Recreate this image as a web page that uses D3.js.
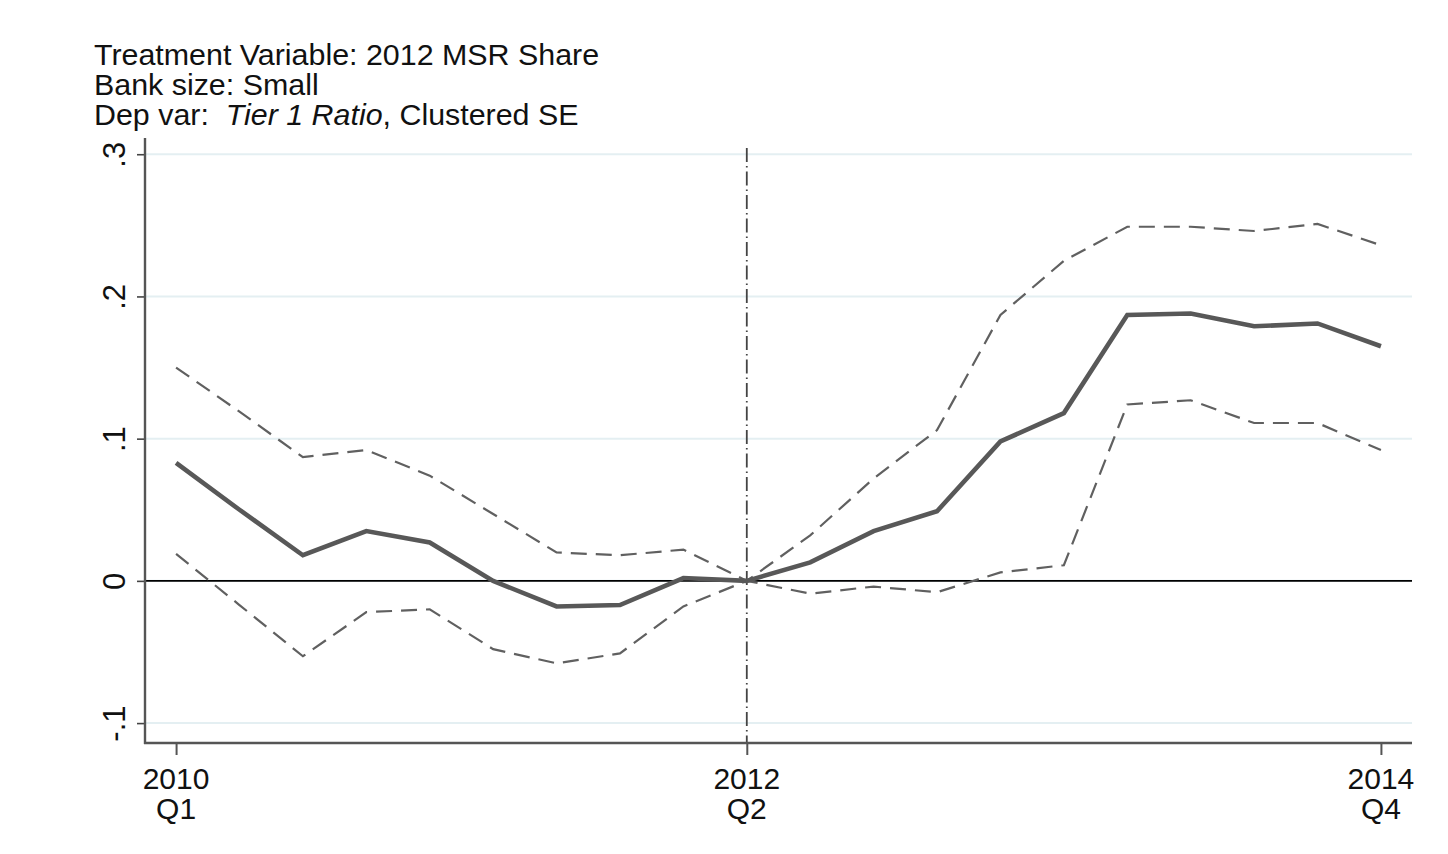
<!DOCTYPE html>
<html>
<head>
<meta charset="utf-8">
<script src="https://cdn.jsdelivr.net/npm/d3@7"></script>
<style>
  body { margin: 0; background: #fff; }
  text { font-family: "Liberation Sans", Arial, sans-serif; fill: #111; }
</style>
</head>
<body>
<svg id="svg" width="1448" height="854"></svg>
<script>
// quarters 2010Q1 .. 2014Q4
var quarters = ["2010Q1","2010Q2","2010Q3","2010Q4","2011Q1","2011Q2","2011Q3","2011Q4",
  "2012Q1","2012Q2","2012Q3","2012Q4","2013Q1","2013Q2","2013Q3","2013Q4",
  "2014Q1","2014Q2","2014Q3","2014Q4"];

var coef  = [0.083, 0.050, 0.018, 0.035, 0.027, 0.000, -0.018, -0.017, 0.002, 0.000,
  0.013, 0.035, 0.049, 0.098, 0.118, 0.187, 0.188, 0.179, 0.181, 0.165];
var upper = [0.150, 0.119, 0.087, 0.092, 0.074, 0.047, 0.020, 0.018, 0.022, 0.000,
  0.032, 0.072, 0.106, 0.187, 0.225, 0.249, 0.249, 0.246, 0.251, 0.236];
var lower = [0.019, -0.017, -0.053, -0.022, -0.020, -0.048, -0.058, -0.051, -0.018, 0.000,
  -0.009, -0.004, -0.008, 0.006, 0.011, 0.124, 0.127, 0.111, 0.111, 0.092];

var yTicks = [-0.1, 0, 0.1, 0.2, 0.3];
var yTickLabels = ["-.1", "0", ".1", ".2", ".3"];
var xTickIdx = [0, 9, 19];
var xTickLabels = [["2010", "Q1"], ["2012", "Q2"], ["2014", "Q4"]];
var eventIdx = 9;

var titleLines = ["Treatment Variable: 2012 MSR Share", "Bank size: Small"];

var svg = d3.select("#svg");
var plotL = 145, plotR = 1412, plotT = 140, plotB = 743;

var x = d3.scaleLinear().domain([-0.49, quarters.length - 1 + 0.49]).range([plotL, plotR]);
var y = d3.scaleLinear().domain([-0.114, 0.31]).range([plotB, plotT]);

// gridlines
svg.append("g").selectAll("line").data(yTicks).enter().append("line")
  .attr("x1", plotL).attr("x2", plotR)
  .attr("y1", function(d){ return y(d); }).attr("y2", function(d){ return y(d); })
  .attr("stroke", "#e4eff2").attr("stroke-width", 2);

// zero line
svg.append("line")
  .attr("x1", plotL).attr("x2", plotR).attr("y1", y(0)).attr("y2", y(0))
  .attr("stroke", "#000").attr("stroke-width", 1.6);

// event line (dash-dot)
svg.append("line")
  .attr("x1", x(eventIdx)).attr("x2", x(eventIdx)).attr("y1", 148).attr("y2", plotB)
  .attr("stroke", "#444").attr("stroke-width", 1.8)
  .attr("stroke-dasharray", "14,4,1.5,4");

var line = d3.line()
  .x(function(d, i){ return x(i); })
  .y(function(d){ return y(d); });

[upper, lower].forEach(function(s){
  svg.append("path").datum(s)
    .attr("d", line).attr("fill", "none")
    .attr("stroke", "#606060").attr("stroke-width", 2.2)
    .attr("stroke-dasharray", "16,9");
});

svg.append("path").datum(coef)
  .attr("d", line).attr("fill", "none")
  .attr("stroke", "#585858").attr("stroke-width", 4.6)
  .attr("stroke-linejoin", "miter");

// y axis
var yAxis = d3.axisLeft(y).tickValues(yTicks).tickSize(8)
  .tickFormat(function(d, i){ return yTickLabels[i]; });
var gy = svg.append("g").attr("transform", "translate(" + plotL + ",0)").call(yAxis);
gy.select(".domain").remove();
gy.selectAll(".tick line").attr("stroke", "#444").attr("stroke-width", 1.6);
gy.selectAll(".tick text").attr("font-size", 31).attr("fill", "#111")
  .attr("x", 0).attr("dy", 0)
  .attr("text-anchor", "middle")
  .attr("transform", "translate(-20,0) rotate(-90)");
svg.append("line").attr("x1", plotL).attr("x2", plotL).attr("y1", 138).attr("y2", plotB + 1)
  .attr("stroke", "#555").attr("stroke-width", 2.4);

// x axis
var xAxis = d3.axisBottom(x).tickValues(xTickIdx).tickSize(12).tickFormat("");
var gx = svg.append("g").attr("transform", "translate(0," + plotB + ")").call(xAxis);
gx.select(".domain").remove();
gx.selectAll(".tick line").attr("stroke", "#555").attr("stroke-width", 2);
svg.append("line").attr("x1", plotL - 1).attr("x2", plotR).attr("y1", plotB).attr("y2", plotB)
  .attr("stroke", "#555").attr("stroke-width", 2.4);

var xl = svg.append("g").selectAll("text").data(xTickIdx).enter().append("text")
  .attr("x", function(d){ return x(d); })
  .attr("text-anchor", "middle").attr("font-size", 30);
xl.append("tspan").attr("x", function(d){ return x(d); }).attr("y", 789)
  .text(function(d, i){ return xTickLabels[i][0]; });
xl.append("tspan").attr("x", function(d){ return x(d); }).attr("y", 819)
  .text(function(d, i){ return xTickLabels[i][1]; });

// title
svg.selectAll(".title").data(titleLines).enter().append("text")
  .attr("class", "title").attr("x", 94)
  .attr("y", function(d, i){ return 65 + i * 30; })
  .attr("font-size", 30.4).text(function(d){ return d; });
var t3 = svg.append("text").attr("x", 94).attr("y", 125).attr("font-size", 30.4)
  .attr("xml:space", "preserve");
t3.append("tspan").text("Dep var:  ");
t3.append("tspan").attr("font-style", "italic").text("Tier 1 Ratio");
t3.append("tspan").text(", Clustered SE");
</script>
</body>
</html>
